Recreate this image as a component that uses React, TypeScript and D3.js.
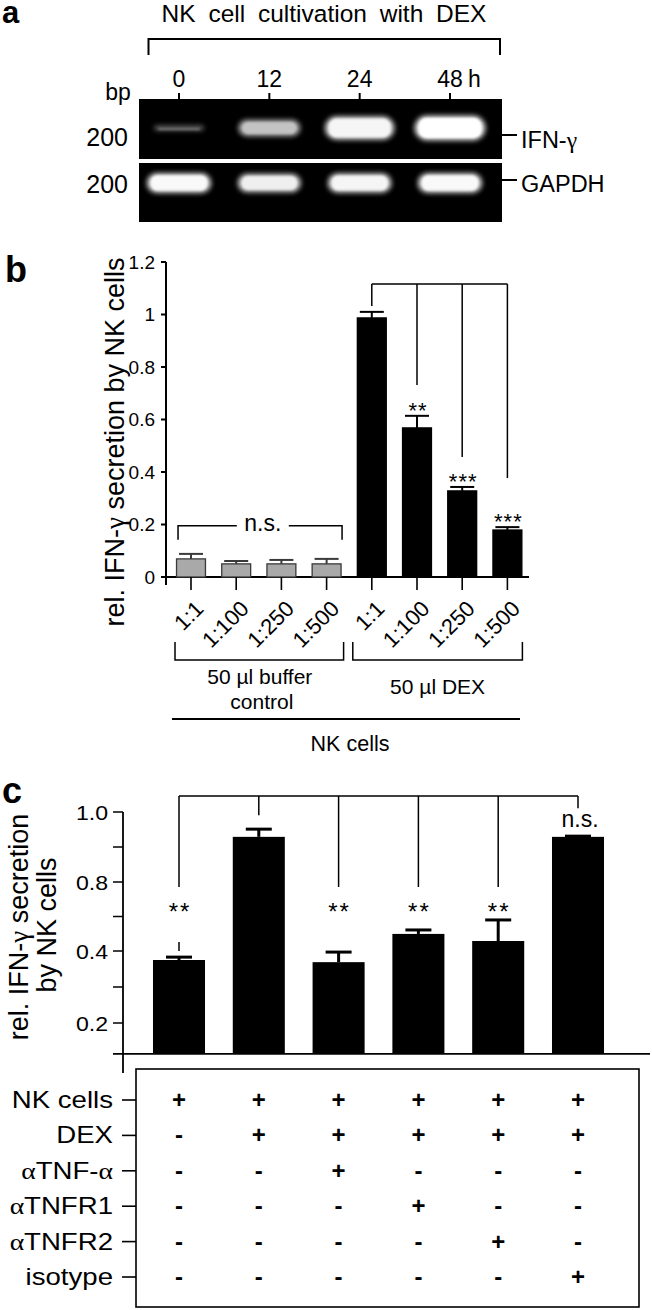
import React from "react";
import * as d3 from "d3";

const SANS = '"Liberation Sans", Arial, Helvetica, sans-serif';
const SERIF = '"Liberation Serif", "Times New Roman", serif';

// ---------- panel a : RT-PCR gel ----------
const gelTitle = "NK cell cultivation with DEX";
const gelLanes = ["0", "12", "24", "48"];
const gelUnit = "h";
const gelMarker = "200";
const gelGenes = ["IFN-γ", "GAPDH"];
const ifnIntensity = [0.3, 0.7, 0.95, 1.0];
const gapdhIntensity = [0.97, 0.92, 0.95, 0.97];

// ---------- panel b ----------
const bDilutions = ["1:1", "1:100", "1:250", "1:500"];
const bGroups = ["50 µl buffer control", "50 µl DEX"];
const bBufferMean = [0.069, 0.05, 0.05, 0.05];
const bBufferErr = [0.019, 0.011, 0.015, 0.019];
const bDexMean = [0.987, 0.568, 0.328, 0.179];
const bDexErr = [0.023, 0.046, 0.015, 0.011];
const bDexSig = ["", "**", "***", "***"];
const bDexDropEnd = [1.032, 0.731, 0.457, 0.377];
const bBracketTop = 1.116;
const bNsLevel = 0.195;
const bYTicks = [0, 0.2, 0.4, 0.6, 0.8, 1, 1.2];
const bYLabel = "rel. IFN-γ secretion by NK cells";
const bXLabel = "NK cells";

// ---------- panel c ----------
const cConditions = ["NK cells", "DEX", "αTNF-α", "αTNFR1", "αTNFR2", "isotype"];
const cTreatment = [
  [1, 1, 1, 1, 1, 1],
  [0, 1, 1, 1, 1, 1],
  [0, 0, 1, 0, 0, 0],
  [0, 0, 0, 1, 0, 0],
  [0, 0, 0, 0, 1, 0],
  [0, 0, 0, 0, 0, 1],
];
const cMean = [0.375, 0.929, 0.369, 0.499, 0.458, 0.929];
const cErr = [0.008, 0.022, 0.028, 0.023, 0.122, 0.002];
const cSig = ["**", "", "**", "**", "**", "n.s."];
const cDropEnd = [0.771, 0.991, 0.771, 0.771, 0.771, 1.011];
const cBracketTop = 1.046;
const cStarLevel = 0.655;
const cNsLevel = 0.977;
const cWhisker = [0.4, 0.452];
const cYTicks = [0.2, 0.4, 0.8, 1.0];
const cYMinor = [0.3, 0.6, 0.9];
const cYMin = 0.114;
const cYLabel1 = "rel. IFN-γ secretion";
const cYLabel2 = "by NK cells";

function rich(s: string) {
  return s.split(/([αγ])/).map((p, i) =>
    /[αγ]/.test(p) ? (
      <tspan key={i} fontFamily={SERIF}>
        {p}
      </tspan>
    ) : (
      p
    )
  );
}

function Txt(props: any) {
  const { x, y, sx = 1, size, anchor = "start", weight = "normal", ls, ws, rot, children } = props;
  const tf = `translate(${x},${y})${rot ? ` rotate(${rot})` : ""} scale(${sx},1)`;
  return (
    <text
      transform={tf}
      fontSize={size}
      textAnchor={anchor}
      fontWeight={weight}
      fontFamily={SANS}
      letterSpacing={ls}
      wordSpacing={ws}
      fill="#000"
    >
      {typeof children === "string" ? rich(children) : children}
    </text>
  );
}

export default function App() {
  // ---------- panel a scales ----------
  const laneX = d3.scalePoint<string>().domain(gelLanes).range([179, 450]);
  const bandW = d3.scaleLinear().domain([0.3, 1]).range([50, 71]);
  const bandH = d3.scaleLinear().domain([0.3, 1]).range([5, 25]);
  const bandO = d3.scaleLinear().domain([0.3, 1]).range([0.45, 1]);
  const gelX0 = 139;
  const gelX1 = 502;
  const gels = [
    { top: 99, h: 60, band: 29, hs: 1, vals: ifnIntensity, gene: gelGenes[0], tick: 135, lab: 148, mk: 146 },
    { top: 163, h: 59, band: 20, hs: 0.82, vals: gapdhIntensity, gene: gelGenes[1], tick: 180, lab: 192, mk: 193 },
  ];

  // ---------- panel b scales ----------
  const bKeys = bGroups.flatMap((g) => bDilutions.map((d) => `${g}|${d}`));
  const xB = d3.scaleBand<string>().domain(bKeys).range([168.4, 530]).paddingInner(0.36).paddingOuter(0.18);
  const yB = d3.scaleLinear().domain([0, 1.2]).range([577, 262]);
  const bw = xB.bandwidth();
  const cxB = (k: string) => (xB(k) as number) + bw / 2;
  const bBars = [
    ...bDilutions.map((d, i) => ({ key: `${bGroups[0]}|${d}`, m: bBufferMean[i], e: bBufferErr[i], fill: "#a9a9a9", stroke: "#3a3a3a" })),
    ...bDilutions.map((d, i) => ({ key: `${bGroups[1]}|${d}`, m: bDexMean[i], e: bDexErr[i], fill: "#000", stroke: "#000" })),
  ];
  const bAxisX = 166;
  const g1 = bDilutions.map((d) => cxB(`${bGroups[0]}|${d}`));
  const g2 = bDilutions.map((d) => cxB(`${bGroups[1]}|${d}`));
  const dexTopY = yB(bBracketTop);

  // ---------- panel c scales ----------
  const xC = d3.scaleBand<number>().domain(d3.range(cMean.length)).range([139.1, 617.9]).paddingInner(0.348).paddingOuter(0.174);
  const yC = d3.scaleLinear().domain(cYTicks).range([1023, 951, 882, 812]);
  const cw = xC.bandwidth();
  const cxC = (i: number) => (xC(i) as number) + cw / 2;
  const cBase = yC(cYMin);
  const cAxisX = 123;
  const rowY = d3.scalePoint<string>().domain(cConditions).range([1100, 1277]);

  return (
    <svg
      width={652}
      height={1310}
      viewBox="0 0 652 1310"
      style={{ position: "absolute", left: 0, top: 0, background: "#fff" }}
    >
      <defs>
        <filter id="glow" x="-50%" y="-150%" width="200%" height="400%">
          <feGaussianBlur stdDeviation="2.8" />
        </filter>
        <filter id="core" x="-50%" y="-150%" width="200%" height="400%">
          <feGaussianBlur stdDeviation="1.3" />
        </filter>
      </defs>
      <rect x={0} y={0} width={652} height={1310} fill="#fff" />

      {/* ================= panel a ================= */}
      <Txt x={2} y={23} size={31} weight="bold">a</Txt>
      <Txt x={324} y={22} size={24.5} anchor="middle" ws={6}>{gelTitle}</Txt>
      <path d="M148.5,55 V39 H500 V55" fill="none" stroke="#000" strokeWidth={2} />
      {gelLanes.map((l, i) => (
        <g key={l}>
          <Txt x={laneX(l)} y={87} size={23} anchor="middle">{l}</Txt>
          {i === gelLanes.length - 1 && (
            <Txt x={(laneX(l) as number) + 18} y={87} size={23}>{gelUnit}</Txt>
          )}
          <line x1={laneX(l)} x2={laneX(l)} y1={93} y2={99} stroke="#000" strokeWidth={2} />
        </g>
      ))}
      <Txt x={118} y={100} size={23} anchor="middle">bp</Txt>
      {gels.map((g) => (
        <g key={g.gene}>
          <rect x={gelX0} y={g.top} width={gelX1 - gelX0} height={g.h} fill="#000" />
          {g.vals.map((v, i) => {
            const cx = laneX(gelLanes[i]) as number;
            const w = g.gene === gelGenes[0] ? bandW(v) : bandW(v) * 0.92;
            const h = bandH(v) * g.hs;
            const cy = g.top + g.band;
            return (
              <g key={i} opacity={bandO(v)}>
                <rect x={cx - w / 2} y={cy - h / 2} width={w} height={h} rx={h / 2} fill="#d8d8d8" filter="url(#glow)" />
                <rect x={cx - w / 2 + 4} y={cy - h / 2 + 2.5} width={w - 8} height={Math.max(h - 5, 2)} rx={h / 3} fill="#fff" filter="url(#core)" />
              </g>
            );
          })}
          <Txt x={128} y={g.mk} size={25} anchor="end">{gelMarker}</Txt>
          <line x1={gelX1} x2={517} y1={g.tick} y2={g.tick} stroke="#000" strokeWidth={2} />
          <Txt x={521} y={g.lab} size={23.5}>{g.gene}</Txt>
        </g>
      ))}

      {/* ================= panel b ================= */}
      <Txt x={5} y={282} size={36} weight="bold">b</Txt>
      <Txt x={124} y={(yB(1.2) + 622) / 2} size={27} anchor="middle" rot={-90}>{bYLabel}</Txt>
      <line x1={bAxisX} x2={bAxisX} y1={yB(1.2)} y2={585} stroke="#000" strokeWidth={2} />
      {bYTicks.map((t) => (
        <g key={t}>
          <line x1={bAxisX - 5} x2={bAxisX} y1={yB(t)} y2={yB(t)} stroke="#000" strokeWidth={2} />
          <Txt x={155} y={yB(t) + 6.6} size={19} anchor="end">{String(t)}</Txt>
        </g>
      ))}
      <line x1={162} x2={529} y1={yB(0)} y2={yB(0)} stroke="#000" strokeWidth={2} />
      {bBars.map((b) => {
        const x = xB(b.key) as number;
        const cx = x + bw / 2;
        return (
          <g key={b.key}>
            <line x1={cx} x2={cx} y1={yB(b.m)} y2={yB(b.m + b.e)} stroke={b.stroke} strokeWidth={2} />
            <line x1={cx - 12} x2={cx + 12} y1={yB(b.m + b.e)} y2={yB(b.m + b.e)} stroke={b.stroke} strokeWidth={2} />
            <rect x={x} y={yB(b.m)} width={bw} height={yB(0) - yB(b.m)} fill={b.fill} stroke={b.stroke} strokeWidth={1.3} />
            <line x1={cx} x2={cx} y1={yB(0)} y2={590} stroke="#000" strokeWidth={1.6} />
            <Txt x={cx + 14} y={610} size={22} anchor="end" rot={-45}>{b.key.split("|")[1]}</Txt>
          </g>
        );
      })}
      {/* n.s. bracket */}
      <path
        d={`M${xB(`${bGroups[0]}|${bDilutions[0]}`)! + 1.5},${yB(bNsLevel) + 14} V${yB(bNsLevel)} H${(g1[1] + g1[2]) / 2 - 22}`}
        fill="none" stroke="#000" strokeWidth={1.5}
      />
      <path
        d={`M${(g1[1] + g1[2]) / 2 + 30},${yB(bNsLevel)} H${xB(`${bGroups[0]}|${bDilutions[3]}`)! + bw + 1} V${yB(bNsLevel) + 14}`}
        fill="none" stroke="#000" strokeWidth={1.5}
      />
      <Txt x={(g1[1] + g1[2]) / 2 + 4} y={yB(bNsLevel) + 5} size={23} anchor="middle">n.s.</Txt>
      {/* significance bracket */}
      <line x1={g2[0]} x2={g2[3]} y1={dexTopY} y2={dexTopY} stroke="#000" strokeWidth={1.5} />
      {g2.map((cx, i) => (
        <g key={i}>
          <line x1={cx} x2={cx} y1={dexTopY} y2={yB(bDexDropEnd[i])} stroke="#000" strokeWidth={1.5} />
          {bDexSig[i] && (
            <Txt x={cx + 1} y={yB(bDexMean[i] + bDexErr[i]) - 11 + 13} size={22} anchor="middle" ls={1}>{bDexSig[i]}</Txt>
          )}
        </g>
      ))}
      {/* group brackets */}
      {[g1, g2].map((g, i) => (
        <path
          key={i}
          d={`M${g[0] - (i === 0 ? 16 : 19)},642 V660 H${g[3] + (i === 0 ? 17 : 15)} V642`}
          fill="none" stroke="#000" strokeWidth={1.5}
        />
      ))}
      <Txt x={(g1[0] + g1[3]) / 2 + 1} y={684} size={21} anchor="middle">{bGroups[0].replace(" control", "")}</Txt>
      <Txt x={(g1[0] + g1[3]) / 2 + 3} y={709} size={21} anchor="middle">control</Txt>
      <Txt x={(g2[0] + g2[3]) / 2 - 2} y={694} size={21} anchor="middle">{bGroups[1]}</Txt>
      <line x1={172} x2={520} y1={719} y2={719} stroke="#000" strokeWidth={2.2} />
      <Txt x={350} y={751} size={21.5} anchor="middle">{bXLabel}</Txt>

      {/* ================= panel c ================= */}
      <Txt x={2} y={803} size={36} weight="bold">c</Txt>
      <Txt x={28} y={927} size={27} anchor="middle" rot={-90}>{cYLabel1}</Txt>
      <Txt x={56} y={925} size={27} anchor="middle" rot={-90}>{cYLabel2}</Txt>
      <line x1={cAxisX} x2={cAxisX} y1={yC(1.0)} y2={1073} stroke="#000" strokeWidth={1.8} />
      {cYTicks.map((t) => (
        <g key={t}>
          <line x1={cAxisX - 10} x2={cAxisX} y1={yC(t)} y2={yC(t)} stroke="#000" strokeWidth={1.5} />
          <Txt x={108} y={yC(t) + 7.5} size={21} sx={1.1} anchor="end">{d3.format(".1f")(t)}</Txt>
        </g>
      ))}
      {cYMinor.map((t) => (
        <line key={t} x1={cAxisX - 10} x2={cAxisX} y1={yC(t)} y2={yC(t)} stroke="#000" strokeWidth={1.5} />
      ))}
      <line x1={113} x2={650} y1={cBase} y2={cBase} stroke="#000" strokeWidth={1.8} />
      {cMean.map((m, i) => {
        const x = xC(i) as number;
        const cx = x + cw / 2;
        return (
          <g key={i}>
            <line x1={cx} x2={cx} y1={yC(m)} y2={yC(m + cErr[i])} stroke="#000" strokeWidth={3} />
            <line x1={cx - 13} x2={cx + 13} y1={yC(m + cErr[i])} y2={yC(m + cErr[i])} stroke="#000" strokeWidth={3} />
            <rect x={x} y={yC(m)} width={cw} height={cBase - yC(m)} fill="#000" />
          </g>
        );
      })}
      {/* significance bracket */}
      <line x1={cxC(0)} x2={cxC(cMean.length - 1)} y1={yC(cBracketTop)} y2={yC(cBracketTop)} stroke="#000" strokeWidth={1.5} />
      {cMean.map((_, i) => (
        <g key={i}>
          <line x1={cxC(i)} x2={cxC(i)} y1={yC(cBracketTop)} y2={yC(cDropEnd[i])} stroke="#000" strokeWidth={1.5} />
          {cSig[i] === "**" && (
            <Txt x={cxC(i) + 1} y={yC(cStarLevel) + 13} size={24} anchor="middle" ls={2}>{cSig[i]}</Txt>
          )}
          {cSig[i] === "n.s." && (
            <Txt x={cxC(i) + 2} y={yC(cNsLevel) + 7} size={23} anchor="middle">{cSig[i]}</Txt>
          )}
        </g>
      ))}
      <line x1={cxC(0)} x2={cxC(0)} y1={yC(cWhisker[0])} y2={yC(cWhisker[1])} stroke="#000" strokeWidth={1.5} />
      {/* treatment table */}
      <rect x={136} y={1069} width={503} height={238} fill="none" stroke="#000" strokeWidth={1.6} />
      {cConditions.map((c, r) => {
        const y = rowY(c) as number;
        return (
          <g key={c}>
            <line x1={122} x2={136} y1={y} y2={y} stroke="#000" strokeWidth={1.6} />
            <Txt x={113} y={y + 8} size={23} sx={1.2} anchor="end">{c}</Txt>
            {cTreatment[r].map((v, i) => (
              <Txt key={i} x={cxC(i)} y={y + 8} size={24} weight="bold" anchor="middle">{v ? "+" : "-"}</Txt>
            ))}
          </g>
        );
      })}
    </svg>
  );
}
